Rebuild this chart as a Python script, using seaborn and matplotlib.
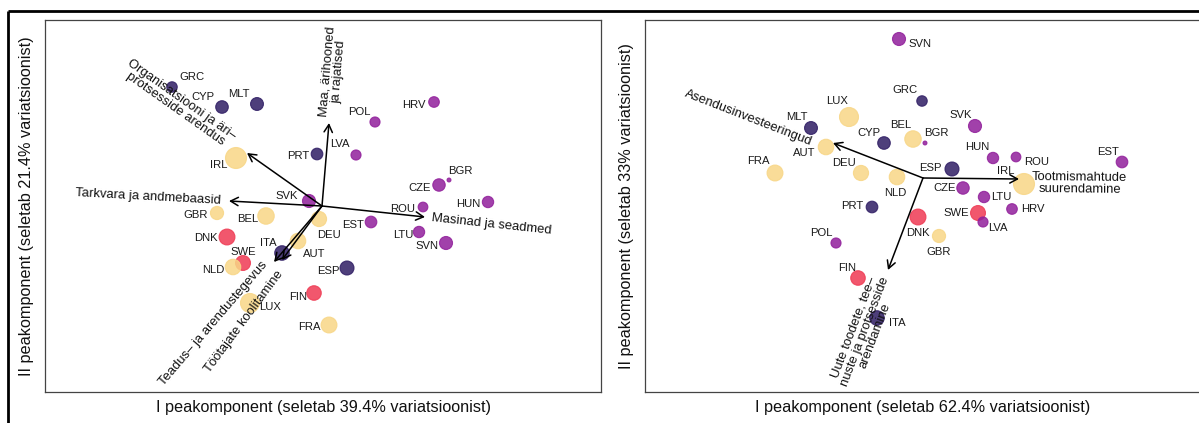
import numpy as np
import pandas as pd
import matplotlib
matplotlib.use("Agg")
import matplotlib.pyplot as plt
from matplotlib.lines import Line2D
import seaborn as sns

# ---------------- data ----------------
countries = ["GRC", "CYP", "MLT", "IRL", "PRT", "SVK", "GBR", "BEL", "DEU", "EST",
             "DNK", "ITA", "AUT", "SWE", "NLD", "ESP", "FIN", "LUX", "FRA", "ROU",
             "HUN", "LTU", "SVN", "HRV", "POL", "LVA", "BGR", "CZE"]
cluster = ["1", "1", "1", "4", "1", "2", "4", "4", "4", "2",
           "3", "1", "4", "3", "4", "1", "3", "4", "4", "2",
           "2", "2", "2", "2", "2", "2", "2", "2"]
weight = [29, 42, 44, 117, 36, 45, 46, 72, 61, 36,
          67, 56, 64, 59, 64, 52, 56, 96, 67, 25,
          34, 34, 45, 30, 27, 27, 4, 41]

# panel A scores
pc1_a = [-1.50, -1.00, -0.65, -0.86, -0.05, -0.13, -1.05, -0.56, -0.03, 0.49,
         -0.95, -0.40, -0.24, -0.79, -0.89, 0.25, -0.08, -0.72, 0.07, 1.01,
         1.66, 0.97, 1.24, 1.12, 0.53, 0.34, 1.27, 1.17]
pc2_a = [1.19, 0.99, 1.02, 0.48, 0.52, 0.05, -0.07, -0.10, -0.13, -0.16,
         -0.31, -0.47, -0.35, -0.57, -0.61, -0.62, -0.87, -0.97, -1.19, -0.01,
         0.04, -0.26, -0.37, 1.04, 0.84, 0.51, 0.26, 0.21]
# panel B scores
pc1_b = [-0.01, -0.39, -1.12, 1.01, -0.51, 0.52, 0.16, -0.10, -0.62, 1.99,
         -0.05, -0.46, -0.97, 0.55, -0.26, 0.29, -0.65, -0.74, -1.48, 0.93,
         0.70, 0.61, -0.24, 0.89, -0.87, 0.60, 0.02, 0.40]
pc2_b = [0.77, 0.35, 0.50, -0.06, -0.29, 0.52, -0.58, 0.39, 0.05, 0.16,
         -0.39, -1.40, 0.31, -0.35, 0.01, 0.09, -1.00, 0.61, 0.05, 0.21,
         0.20, -0.19, 1.39, -0.31, -0.65, -0.44, 0.35, -0.10]

# loadings
load_names_a = ["Maa, ärihooned\nja rajatised",
                "Organisatsiooni ja äri–\nprotsesside arendus",
                "Tarkvara ja andmebaasid",
                "Masinad ja seadmed",
                "Teadus– ja arendustegevus",
                "Töötajate koolitamine"]
load_x_a = [0.07, -0.75, -0.93, 1.03, -0.48, -0.40]
load_y_a = [0.83, 0.53, 0.05, -0.11, -0.56, -0.54]

load_names_b = ["Asendusinvesteeringud",
                "Tootmismahtude\nsuurendamine",
                "Uute toodete, tee–\nnuste ja protsesside\narendamine"]
load_x_b = [-0.90, 0.96, -0.35]
load_y_b = [0.35, -0.01, -0.92]

xlabel_a = "I peakomponent (seletab 39.4% variatsioonist)"
ylabel_a = "II peakomponent (seletab 21.4% variatsioonist)"
xlabel_b = "I peakomponent (seletab 62.4% variatsioonist)"
ylabel_b = "II peakomponent (seletab 33% variatsioonist)"

# ---------------- layout / style ----------------
palette = {"1": "#2F1D64", "2": "#911F9B", "3": "#EF3A53", "4": "#F8D686"}

# label offsets in pixels (dx right, dy down)
lab_off_a = {"GRC": (20, -10), "CYP": (-19, -10), "MLT": (-18, -10), "IRL": (-17, 7),
             "PRT": (-19, 2), "SVK": (-22, -5), "GBR": (-21, 2), "BEL": (-18, 3),
             "DEU": (10, 16), "EST": (-18, 3), "DNK": (-21, 1), "ITA": (-14, -10),
             "AUT": (16, 13), "SWE": (0, -11), "NLD": (-20, 3), "ESP": (-19, 3),
             "FIN": (-16, 4), "LUX": (20, 4), "FRA": (-20, 2), "ROU": (-20, 2),
             "HUN": (-20, 2), "LTU": (-16, 3), "SVN": (-19, 3), "HRV": (-20, 3),
             "POL": (-16, -10), "LVA": (-16, -11), "BGR": (11, -9), "CZE": (-19, 3)}
lab_off_b = {"SVN": (21, 5), "GRC": (-17, -11), "LUX": (-12, -16), "MLT": (-14, -11),
             "CYP": (-15, -10), "BEL": (-12, -14), "BGR": (11, -10), "AUT": (-22, 6),
             "FRA": (-17, -12), "DEU": (-17, -10), "NLD": (-2, 16), "ESP": (-22, -1),
             "PRT": (-20, -1), "SVK": (-14, -11), "HUN": (-16, -11), "ROU": (21, 5),
             "EST": (-14, -10), "IRL": (-18, -13), "CZE": (-18, 0), "LTU": (17, 0),
             "HRV": (21, 0), "SWE": (-22, 0), "LVA": (15, 6), "DNK": (0, 16),
             "GBR": (0, 16), "POL": (-15, -10), "FIN": (-11, -10), "ITA": (20, 5)}
# gap along the arrow and perpendicular shift (px) of each loading label
gap_a = [6, 19, 8, 7, 6, 10]
perp_a = [0, 0, 0, 0, 0, 0]
va_a = ["center", "center", "center", "center", "bottom", "top"]
gap_b = [20, 13, 8]
perp_b = [7, -4, 0]
va_b = ["center", "center", "center"]

sns.set_style("white")
plt.rcParams["font.family"] = ["Liberation Sans", "DejaVu Sans"]

W, H = 1199, 423
fig = plt.figure(figsize=(W / 100, H / 100), dpi=100)
ax_a = fig.add_axes([45 / W, 31 / H, 556 / W, 372 / H])
ax_b = fig.add_axes([645 / W, 31 / H, 556 / W, 372 / H])

PX = 72 / 100.0  # points per pixel
smin, smax = min(weight), max(weight)


def panel(ax, pc1, pc2, lnames, lx, ly, offs, gaps, perps, vas, xlim, ylim, xl, yl):
    df = pd.DataFrame({"country": countries, "cluster": cluster, "weight": weight,
                       "pc1": pc1, "pc2": pc2})
    sns.scatterplot(data=df, x="pc1", y="pc2", hue="cluster", size="weight",
                    palette=palette, sizes=(smin * 1.95, smax * 1.95),
                    size_norm=(smin, smax), alpha=0.85, edgecolor="face",
                    linewidth=0.8, legend=False, ax=ax, zorder=2)
    ax.set_xlim(*xlim)
    ax.set_ylim(*ylim)
    for c, x, y in zip(countries, pc1, pc2):
        dx, dy = offs[c]
        ax.annotate(c, (x, y), xytext=(dx * PX, -dy * PX), textcoords="offset points",
                    ha="center", va="center", fontsize=8.1, color="#1a1a1a", zorder=3)
    for name, x, y, g, pp, va in zip(lnames, lx, ly, gaps, perps, vas):
        ax.annotate("", xy=(x, y), xytext=(0, 0),
                    arrowprops=dict(arrowstyle="->,head_length=0.55,head_width=0.3",
                                    lw=1.1, color="black", shrinkA=0, shrinkB=0),
                    zorder=4)
        p0 = ax.transData.transform((0, 0))
        p1 = ax.transData.transform((x, y))
        ang = np.degrees(np.arctan2(p1[1] - p0[1], p1[0] - p0[0]))
        if x < 0:
            rot, ha = ang + 180, "right"
        else:
            rot, ha = ang, "left"
        a = np.radians(ang)
        ox = (g * np.cos(a) - pp * np.sin(a)) * PX
        oy = (g * np.sin(a) + pp * np.cos(a)) * PX
        ax.annotate(name, (x, y), xytext=(ox, oy), textcoords="offset points",
                    rotation=rot, rotation_mode="anchor", ha=ha, va=va,
                    multialignment="center", fontsize=9.4, color="#111111",
                    zorder=5, linespacing=0.95)
    ax.set_xticks([])
    ax.set_yticks([])
    ax.set_xlabel(xl, fontsize=11.7, labelpad=6, color="#111111")
    ax.set_ylabel(yl, fontsize=11.7, labelpad=8, color="#111111")
    for s in ax.spines.values():
        s.set_color("#444444")
        s.set_linewidth(0.9)


panel(ax_a, pc1_a, pc2_a, load_names_a, load_x_a, load_y_a, lab_off_a, gap_a, perp_a,
      va_a, (-2.77, 2.79), (-1.86, 1.86), xlabel_a, ylabel_a)
panel(ax_b, pc1_b, pc2_b, load_names_b, load_x_b, load_y_b, lab_off_b, gap_b, perp_b,
      va_b, (-2.78, 2.78), (-2.14, 1.58), xlabel_b, ylabel_b)

# outer frame lines
fig.add_artist(Line2D([8 / W, 1.0], [1 - 11 / H, 1 - 11 / H], transform=fig.transFigure,
                      color="black", lw=2.0, solid_capstyle="butt"))
fig.add_artist(Line2D([8 / W, 8 / W], [0, 1 - 11 / H], transform=fig.transFigure,
                      color="black", lw=2.0, solid_capstyle="butt"))

fig.savefig("out.png", dpi=100)
